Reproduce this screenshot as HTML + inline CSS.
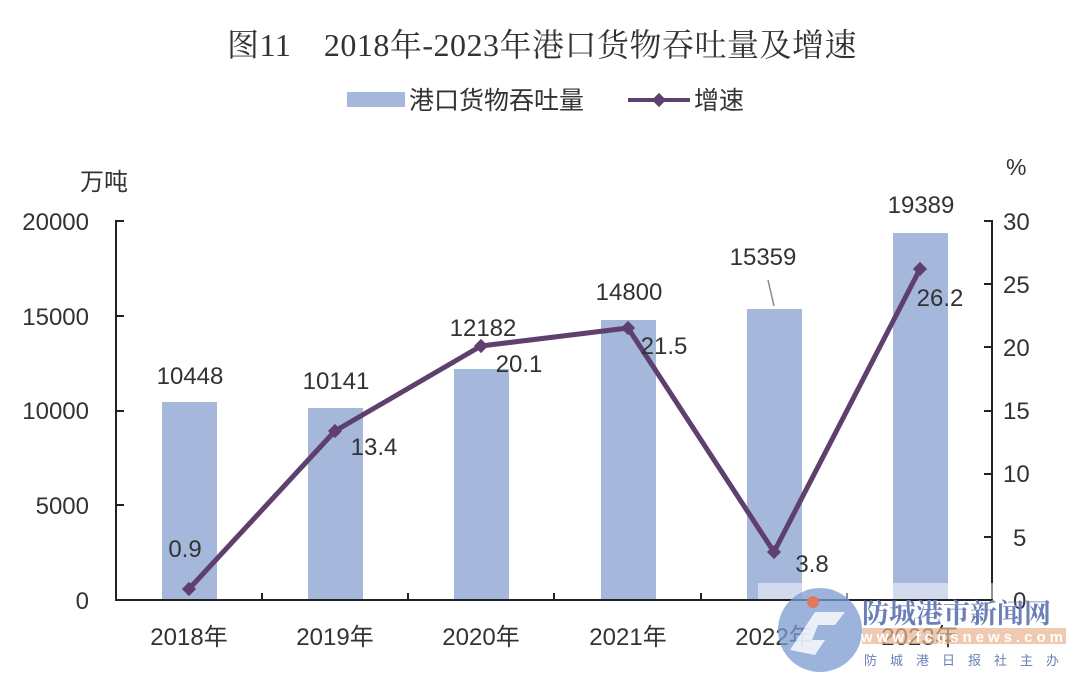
<!DOCTYPE html>
<html><head><meta charset="utf-8"><style>
body{margin:0;background:#fff;}
svg text{font-family:"Liberation Sans","Noto Sans CJK SC",sans-serif;fill:#333;}
</style></head><body>
<svg width="1083" height="682" viewBox="0 0 1083 682" xmlns="http://www.w3.org/2000/svg">
<text x="542" y="56" text-anchor="middle" font-size="32" style="font-family:'Liberation Serif','Noto Serif CJK SC',serif;fill:#333;letter-spacing:0.5px">图11　2018年-2023年港口货物吞吐量及增速</text>
<rect x="347" y="92" width="58" height="15" fill="#a5b7da"/>
<text x="409" y="109" font-size="25">港口货物吞吐量</text>
<line x1="628" y1="100" x2="690" y2="100" stroke="#5e3f6e" stroke-width="4"/>
<rect x="654" y="95" width="10" height="10" fill="#5e3f6e" transform="rotate(45 659 100)"/>
<text x="694" y="109" font-size="25">增速</text>
<text x="80" y="190" font-size="24">万吨</text>
<text x="1006" y="175" font-size="23">%</text>
<g font-size="24" text-anchor="end">
<text x="89" y="230">20000</text><text x="89" y="325">15000</text><text x="89" y="419">10000</text><text x="89" y="514">5000</text><text x="89" y="609">0</text>
</g>
<g font-size="24">
<text x="1003" y="230">30</text><text x="1003" y="293">25</text><text x="1003" y="356">20</text><text x="1003" y="419">15</text><text x="1003" y="482">10</text><text x="1013" y="546">5</text><text x="1013" y="609">0</text>
</g>
<g fill="#a5b7da">
<rect x="162" y="402" width="55" height="198"/>
<rect x="308" y="408" width="55" height="192"/>
<rect x="454" y="369" width="55" height="231"/>
<rect x="601" y="320" width="55" height="280"/>
<rect x="747" y="309" width="55" height="291"/>
<rect x="893" y="233" width="55" height="367"/>
</g>
<g stroke="#222" stroke-width="2" fill="none">
<polyline points="124,221 116,221 116,600 992,600 992,221 984,221"/>
<line x1="116" y1="316" x2="124" y2="316"/><line x1="116" y1="411" x2="124" y2="411"/><line x1="116" y1="505" x2="124" y2="505"/>
<line x1="984" y1="284" x2="992" y2="284"/><line x1="984" y1="347" x2="992" y2="347"/><line x1="984" y1="411" x2="992" y2="411"/><line x1="984" y1="474" x2="992" y2="474"/><line x1="984" y1="537" x2="992" y2="537"/>
<line x1="262" y1="593" x2="262" y2="600"/><line x1="408" y1="593" x2="408" y2="600"/><line x1="554" y1="593" x2="554" y2="600"/><line x1="701" y1="593" x2="701" y2="600"/><line x1="847" y1="593" x2="847" y2="600"/>
</g>
<line x1="768" y1="280" x2="774" y2="306" stroke="#888" stroke-width="1.5"/>
<polyline points="189,589 335,431 481,346 628,328 774,552 920,269" fill="none" stroke="#5e3f6e" stroke-width="5" stroke-linejoin="round"/>
<g fill="#5e3f6e">
<rect x="184" y="584" width="10" height="10" transform="rotate(45 189 589)"/>
<rect x="330" y="426" width="10" height="10" transform="rotate(45 335 431)"/>
<rect x="476" y="341" width="10" height="10" transform="rotate(45 481 346)"/>
<rect x="623" y="323" width="10" height="10" transform="rotate(45 628 328)"/>
<rect x="769" y="547" width="10" height="10" transform="rotate(45 774 552)"/>
<rect x="915" y="264" width="10" height="10" transform="rotate(45 920 269)"/>
</g>
<g font-size="24" text-anchor="middle">
<text x="190" y="384">10448</text><text x="336" y="389">10141</text><text x="483" y="336">12182</text><text x="629" y="300">14800</text><text x="763" y="265">15359</text><text x="921" y="213">19389</text>
<text x="185" y="557">0.9</text><text x="374" y="455">13.4</text><text x="519" y="372">20.1</text><text x="664" y="354">21.5</text><text x="812" y="572">3.8</text><text x="940" y="306">26.2</text>
</g>
<g font-size="24" text-anchor="middle">
<text x="189" y="645">2018年</text><text x="335" y="645">2019年</text><text x="481" y="645">2020年</text><text x="628" y="645">2021年</text><text x="774" y="645">2022年</text><text x="920" y="645">2023年</text>
</g>
<rect x="758" y="583" width="235" height="16" fill="#fff" opacity="0.5"/>
<circle cx="820" cy="630" r="42" fill="#7b9bd0" opacity="0.75"/>
<path d="M790 650 L815 612 L845 612 L835 625 L818 625 L812 640 L825 640 L815 655 Z" fill="#fff" opacity="0.8"/>
<circle cx="813" cy="602" r="6" fill="#e2785a"/>
<text x="862" y="623" font-size="27" font-weight="bold" style="font-family:'Liberation Serif','Noto Serif CJK SC',serif;fill:#6b80b6">防城港市新闻网</text>
<rect x="862" y="628" width="204" height="16" fill="#e8b48e" opacity="0.7"/>
<text x="964" y="642" font-size="15" text-anchor="middle" font-weight="bold" style="fill:#fff;letter-spacing:4px">www.fcgsnews.com</text>
<text x="864" y="665" font-size="13" style="fill:#6b80b6;letter-spacing:13px">防城港日报社主办</text>
</svg>
</body></html>
